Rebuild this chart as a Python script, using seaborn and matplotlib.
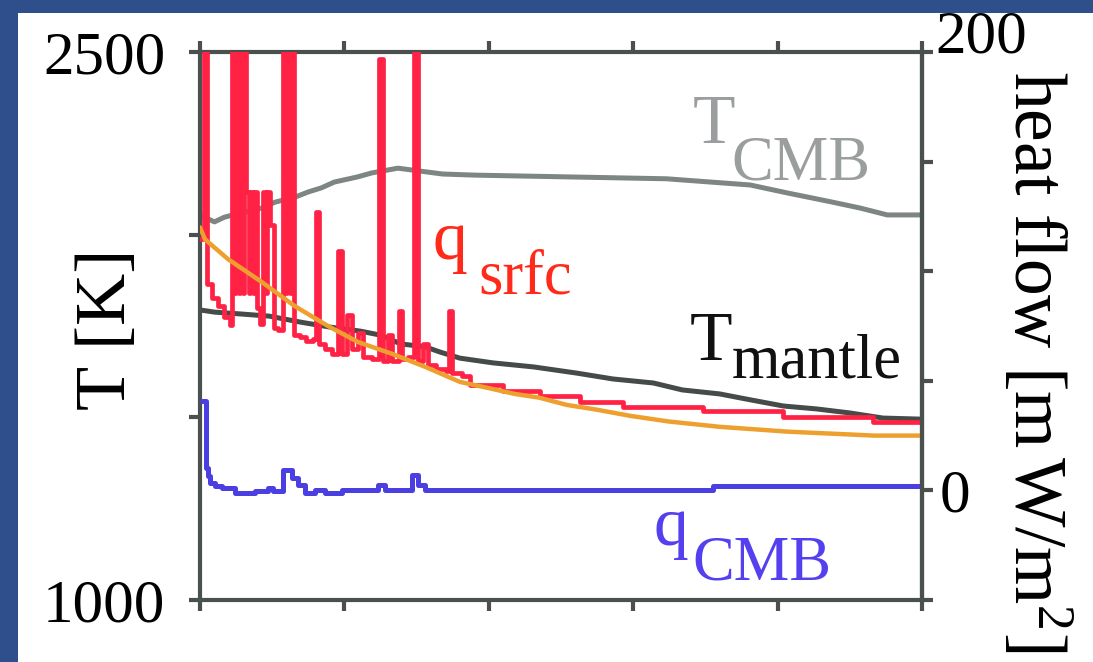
import numpy as np
import pandas as pd
import matplotlib
matplotlib.use("Agg")
import matplotlib.pyplot as plt
from matplotlib.patches import Rectangle
import matplotlib.transforms as mtrans
import seaborn as sns

# ---------------- data ----------------
# time axis 0..5 (arbitrary units, ticks unlabeled)
tcmb_time = [0.00, 0.03, 0.10, 0.17, 0.31, 0.43, 0.52, 0.66, 0.75, 0.84, 0.93, 1.09,
             1.19, 1.37, 1.68, 1.90, 3.23, 3.81, 4.07, 4.38, 4.57, 4.76, 5.00]
tcmb_K = [2054, 2048, 2035, 2048, 2062, 2073, 2089, 2103, 2117, 2128, 2144, 2158,
          2169, 2182, 2166, 2163, 2153, 2136, 2114, 2089, 2073, 2054, 2054]

tmantle_time = [0.00, 0.10, 0.28, 0.48, 0.69, 0.90, 1.11, 1.25, 1.39, 1.56, 1.66, 1.80,
                2.03, 2.31, 2.61, 2.86, 3.14, 3.34, 3.60, 3.81, 4.04, 4.27, 4.50, 4.73, 5.00]
tmantle_K = [1794, 1788, 1783, 1777, 1761, 1747, 1736, 1725, 1701, 1693, 1679, 1662,
             1649, 1638, 1621, 1605, 1594, 1575, 1564, 1548, 1531, 1523, 1512, 1498, 1495]

qsrfc_time = [0.000, 0.028, 0.048, 0.083, 0.125, 0.166, 0.208,
              0.222, 0.242, 0.249, 0.270, 0.277, 0.298, 0.305,
              0.319, 0.339, 0.346, 0.367, 0.374, 0.395, 0.416,
              0.436, 0.457, 0.464, 0.485, 0.512, 0.540,
              0.575, 0.596, 0.603, 0.623, 0.630, 0.651,
              0.693, 0.734, 0.783, 0.803, 0.824, 0.866, 0.914,
              0.956, 0.983, 1.018, 1.053, 1.094, 1.129, 1.191, 1.240, 1.267, 1.302, 1.330,
              1.378, 1.399, 1.440, 1.482, 1.510, 1.544, 1.579, 1.634, 1.704, 1.724, 1.745,
              1.814, 1.870, 2.098, 2.355, 2.632, 2.929, 3.483, 4.037, 4.661, 5.000]
qsrfc_mW = [114.5, 260, 94, 88, 84, 79, 75.5,
            260, 90, 260, 90, 260, 90, 260,
            136, 90, 136, 90, 136, 83, 76,
            136, 90, 136, 121, 74, 73,
            260, 90, 260, 90, 260, 71,
            70, 68, 69, 127, 67, 64.5, 62,
            109, 62, 80, 64.5, 72, 61, 60, 197, 59, 71, 59,
            82, 60, 61, 260, 59, 67, 57, 55.5, 54.5, 82, 53.6,
            52, 48, 45.5, 43, 40.5, 38, 36, 33.6, 31, 31]

qcmb_time = [0.014, 0.042, 0.055, 0.069, 0.104, 0.152, 0.242, 0.381, 0.471, 0.506, 0.575,
             0.637, 0.679, 0.727, 0.796, 0.866, 0.983, 1.233, 1.281, 1.468, 1.510, 1.558,
             3.553, 5.000]
qcmb_mW = [41, 10, 6.4, 3.2, 1.8, 0.9, -1.4, -0.5, 0.9, -0.5, 9.1,
           5.5, 2.3, -1.4, 0.0, -1.4, 0.0, 2.3, 0.0, 6.8, 2.3, 0.0,
           1.8, 1.8]

qref_time = [0.00, 0.035, 0.194, 0.429, 0.658, 0.886, 1.094, 1.330, 1.558, 1.80, 1.99,
             2.18, 2.35, 2.54, 2.75, 2.98, 3.25, 3.60, 4.07, 4.67, 5.00]
qref_mW = [120, 114.5, 105.5, 95, 84, 75, 67.7, 62.3, 56.4, 49.5, 46.8,
           44, 42.3, 39, 36.8, 34, 31.4, 29, 26.8, 25, 25]

left_ticks = [1000, 1500, 2000, 2500]
left_ticklabels = ["1000", "", "", "2500"]
right_ticks = [-50, 0, 50, 100, 150, 200]
right_ticklabels = ["", "0", "", "", "", "200"]
x_ticks = [0, 1, 2, 3, 4, 5]

# ---------------- style ----------------
sns.set_theme(style="ticks")
plt.rcParams["font.family"] = ["Liberation Serif", "DejaVu Serif"]
plt.rcParams["mathtext.fontset"] = "custom"
plt.rcParams["mathtext.rm"] = "Liberation Serif"
plt.rcParams["mathtext.it"] = "Liberation Serif:italic"
plt.rcParams["mathtext.default"] = "regular"

SPINE = "#4a504e"
C_TCMB = "#7d8683"
C_TMAN = "#454b49"
C_RED = "#ff2244"
C_ORG = "#eea02e"
C_BLUE = "#4b3fe2"

W, H = 1093, 662
fig = plt.figure(figsize=(W / 100, H / 100), dpi=100)
fig.patch.set_facecolor("#2f4f8c")
fig.patches.append(Rectangle((18 / W, 0), 1, 1 - 13 / H, transform=fig.transFigure,
                             facecolor="white", edgecolor="none", zorder=-1))

ax = fig.add_axes([200 / W, 1 - 600 / H, 722 / W, 548 / H])
ax.set_facecolor("white")
ax2 = ax.twinx()
ax2.patch.set_visible(False)

# temperatures (left axis)
df_tcmb = pd.DataFrame({"t": tcmb_time, "T": tcmb_K})
df_tman = pd.DataFrame({"t": tmantle_time, "T": tmantle_K})
sns.lineplot(data=df_tcmb, x="t", y="T", ax=ax, color=C_TCMB, lw=3.6,
             sort=False, estimator=None)
sns.lineplot(data=df_tman, x="t", y="T", ax=ax, color=C_TMAN, lw=3.6,
             sort=False, estimator=None)

# heat flows (right axis)
df_qs = pd.DataFrame({"t": qsrfc_time, "q": qsrfc_mW})
df_qr = pd.DataFrame({"t": qref_time, "q": qref_mW})
df_qc = pd.DataFrame({"t": qcmb_time, "q": qcmb_mW})
sns.lineplot(data=df_qs, x="t", y="q", ax=ax2, color=C_RED, lw=3.4,
             sort=False, estimator=None, drawstyle="steps-post")
sns.lineplot(data=df_qr, x="t", y="q", ax=ax2, color=C_ORG, lw=3.2,
             sort=False, estimator=None)
sns.lineplot(data=df_qc, x="t", y="q", ax=ax2, color=C_BLUE, lw=3.6,
             sort=False, estimator=None, drawstyle="steps-post")

ax.set_xlim(0, 5)
ax.set_ylim(1000, 2500)
ax2.set_ylim(-50, 200)

ax.set_xticks(x_ticks)
ax.set_yticks(left_ticks)
ax.set_yticklabels(left_ticklabels)
ax2.set_yticks(right_ticks)
# the "200" label sits above its tick in the original: drawn separately below
ax2.set_yticklabels([s if s != "200" else "" for s in right_ticklabels])

ax.tick_params(axis="x", which="both", top=True, bottom=True, labelbottom=False,
               labeltop=False, direction="out", length=8, width=3, color=SPINE)
ax.tick_params(axis="y", direction="out", length=8, width=3, color=SPINE,
               labelsize=44, pad=17, labelcolor="black")
ax2.tick_params(axis="y", direction="out", length=8, width=3, color=SPINE,
                labelsize=44, pad=5, labelcolor="black")

blend = mtrans.blended_transform_factory(ax2.transAxes, ax2.transData)
ax2.text(1.0, 200, "200", transform=blend + mtrans.ScaledTranslation(
             13 / 100, 14 / 100, fig.dpi_scale_trans),
         fontsize=44, ha="left", va="center", color="black", clip_on=False)

for sp in ax.spines.values():
    sp.set_color(SPINE)
    sp.set_linewidth(3)
for name, sp in ax2.spines.items():
    sp.set_color(SPINE)
    sp.set_linewidth(3)
    sp.set_visible(name == "right")

ax.set_xlabel("")
ax.set_ylabel("T [K]", fontsize=52, rotation=90, ha="center", va="center",
              rotation_mode="default", color="black")
ax.yaxis.set_label_coords((107 - 200) / 722, (600 - 329) / 548)
ax2.set_ylabel("heat flow [m$\\,$W/m$^\\mathrm{2}$]", fontsize=53, rotation=270,
               ha="center", va="center", rotation_mode="default", color="black")
ax2.yaxis.set_label_coords((1034 - 200) / 722, (600 - 362) / 548)

# in-plot labels
def lab(t, T, s, color, size):
    ax.text(t, T, s, color=color, fontsize=size, ha="left", va="baseline", zorder=5)

lab(3.41, 2251, "T", "#9b9e9e", 50)
lab(3.68, 2150, "CMB", "#9b9e9e", 45)
lab(1.61, 1933, "q", "#ff2a1a", 50)
lab(1.925, 1840, "srfc", "#ff2a1a", 45)
lab(3.39, 1657, "T", "#111111", 50)
lab(3.68, 1608, "mantle", "#111111", 45)
lab(3.14, 1151, "q", "#5540f0", 50)
lab(3.41, 1055, "CMB", "#5540f0", 45)

fig.savefig("out.png", dpi=100, facecolor=fig.get_facecolor())
